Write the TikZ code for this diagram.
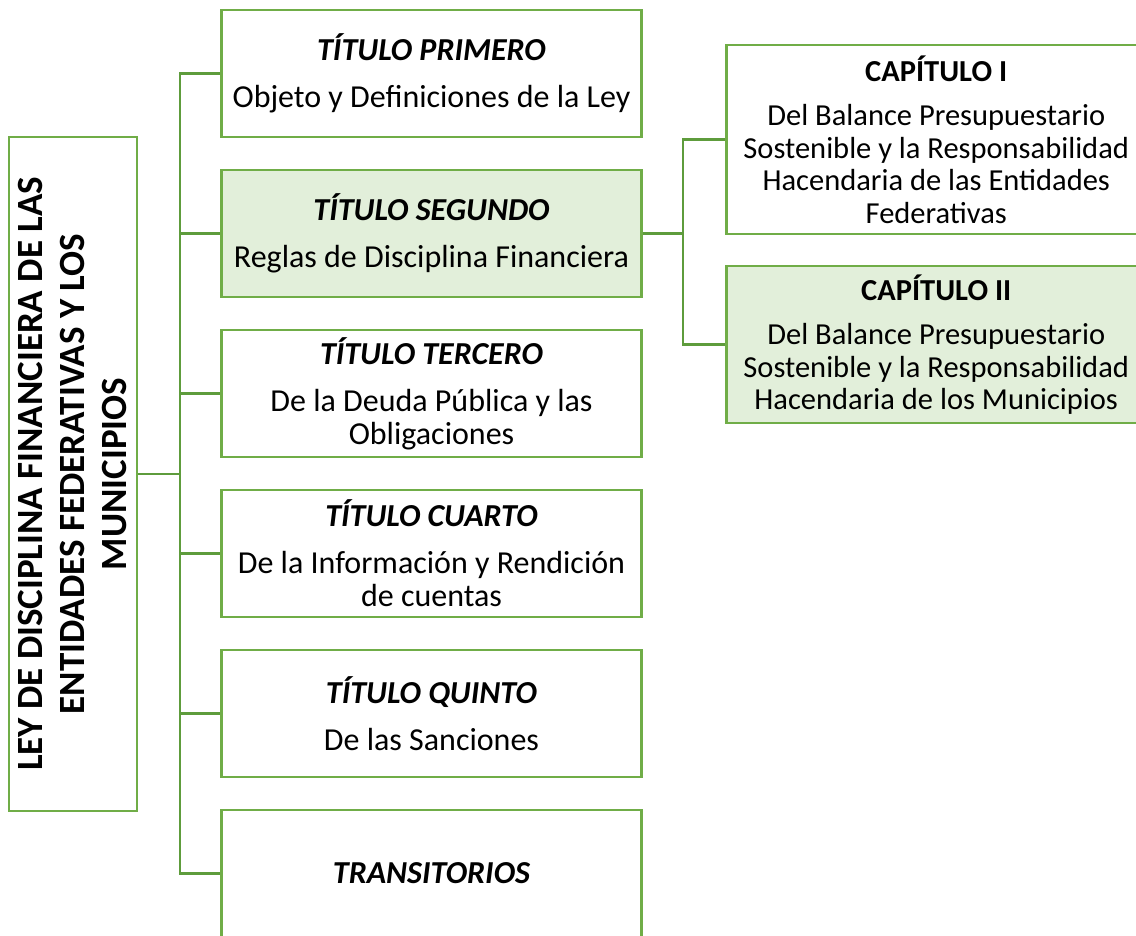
\documentclass[tikz,border=0pt]{standalone}
\usepackage{fontspec}
\setmainfont{Carlito}
\usepackage{xcolor}
\usepackage{tikz}
\usetikzlibrary{positioning,calc}

\definecolor{boxgreen}{HTML}{70AD47}
\definecolor{linegreen}{HTML}{5E9C3C}
\definecolor{fillgreen}{HTML}{E2EFDA}

\begin{document}
\begin{tikzpicture}[
    x=1pt, y=-1pt,
    node distance=30.5pt,
    font=\fontsize{32}{33}\selectfont,
    box/.style={rectangle, draw=boxgreen, line width=2.5pt, fill=white, align=center, minimum width=420pt, minimum height=127pt, inner sep=0pt},
    boxhi/.style={box, fill=fillgreen},
    capbox/.style={box, font=\fontsize{30.5}{32.5}\selectfont},
    lawbox/.style={rectangle, draw=boxgreen, line width=2.5pt, fill=white, rotate=90, align=center, minimum width=674pt, minimum height=128pt, inner sep=0pt, font=\fontsize{37}{42}\selectfont\bfseries},
    link/.style={draw=linegreen, line width=2.5pt, line join=miter}
]
\useasboundingbox (0,0) rectangle (1136,936);

% Law
\node [lawbox] (ley) at (73,474) {LEY DE DISCIPLINA FINANCIERA DE LAS\\ENTIDADES FEDERATIVAS Y LOS\\MUNICIPIOS};

% Titles
\node [box] (prim) at (431.5,73.5) {{\bfseries\itshape TÍTULO PRIMERO}\\[14pt]Objeto y Definiciones de la Ley};
\node [boxhi, below=of prim] (seg) {{\bfseries\itshape TÍTULO SEGUNDO}\\[14pt]Reglas de Disciplina Financiera};
\node [box, below=of seg] (ter) {{\bfseries\itshape TÍTULO TERCERO}\\[14pt]De la Deuda Pública y las\\Obligaciones};
\node [box, below=of ter] (cua) {{\bfseries\itshape TÍTULO CUARTO}\\[14pt]De la Información y Rendición\\de cuentas};
\node [box, below=of cua] (qui) {{\bfseries\itshape TÍTULO QUINTO}\\[14pt]De las Sanciones};
\node [box, below=of qui] (trans) {{\bfseries\itshape TRANSITORIOS}};

% Chapters
\node [capbox, minimum height=189pt, anchor=west] (cap1) at (725,139.5) {{\bfseries CAPÍTULO I}\\[12pt]Del Balance Presupuestario\\Sostenible y la Responsabilidad\\Hacendaria de las Entidades\\Federativas};
\node [capbox, fill=fillgreen, minimum height=157pt, anchor=west] (cap2) at (725,344.5) {{\bfseries CAPÍTULO II}\\[12pt]Del Balance Presupuestario\\Sostenible y la Responsabilidad\\Hacendaria de los Municipios};

% Connections
\coordinate (trunk) at (180,0);
\coordinate (rtrunk) at (683,0);
\draw [link] (ley.south) -- (ley.south -| trunk);
\draw [link] (prim.west) -- (prim.west -| trunk) -- (trans.west -| trunk) -- (trans.west);
\foreach \n in {seg,ter,cua,qui}
    \draw [link] (\n.west -| trunk) -- (\n.west);
\draw [link] (seg.east) -- (seg.east -| rtrunk);
\draw [link] (cap1.west) -- (cap1.west -| rtrunk) -- (cap2.west -| rtrunk) -- (cap2.west);

\end{tikzpicture}
\end{document}
